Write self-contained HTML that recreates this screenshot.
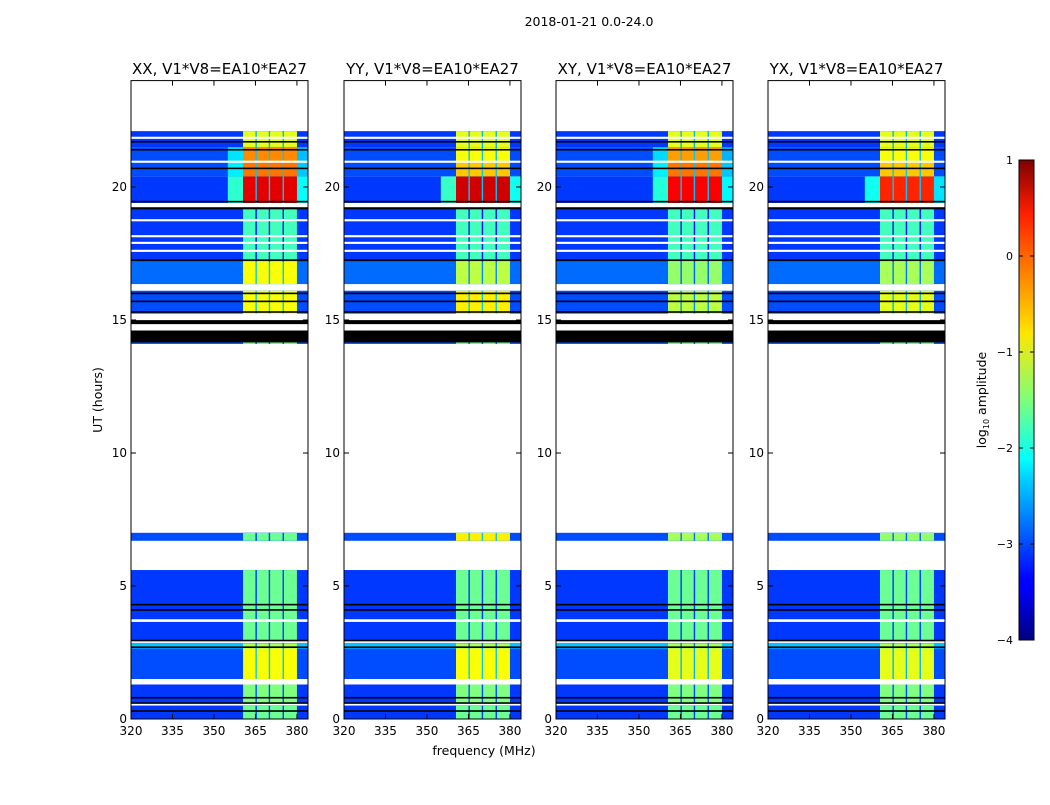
<!DOCTYPE html>
<html><head><meta charset="utf-8"><style>
html,body{margin:0;padding:0;background:#fff;}
svg text{font-family:"DejaVu Sans","Liberation Sans",sans-serif;}
</style></head><body>
<svg id="fig" width="1050" height="800" viewBox="0 0 1050 800" xmlns="http://www.w3.org/2000/svg">
<text x="589" y="26" font-size="12.5" text-anchor="middle">2018-01-21 0.0-24.0</text>
<text transform="translate(102,400) rotate(-90)" font-size="12.5" text-anchor="middle">UT (hours)</text>
<text x="484" y="755" font-size="12.5" text-anchor="middle">frequency (MHz)</text>
<g id="panels"></g>
<defs><linearGradient id="jet" x1="0" y1="1" x2="0" y2="0">
<stop offset="0" stop-color="#00007f"/><stop offset="0.11" stop-color="#0000ff"/><stop offset="0.125" stop-color="#0000ff"/>
<stop offset="0.34" stop-color="#00d4ff"/><stop offset="0.375" stop-color="#00ffff"/><stop offset="0.5" stop-color="#7dff7a"/>
<stop offset="0.64" stop-color="#ffe600"/><stop offset="0.66" stop-color="#ffd400"/><stop offset="0.89" stop-color="#ff1e00"/><stop offset="1" stop-color="#7f0000"/>
</linearGradient></defs>
<rect x="1019" y="160" width="15" height="480" fill="url(#jet)" stroke="#000" stroke-width="1"/>
<g id="cbticks"></g>
<text transform="translate(986,400) rotate(-90)" font-size="12.5" text-anchor="middle">log<tspan font-size="8" dy="3">10</tspan><tspan dy="-3"> amplitude</tspan></text>
</svg>
<script>
const NS='http://www.w3.org/2000/svg';
const panelTitles=['XX, V1*V8=EA10*EA27','YY, V1*V8=EA10*EA27','XY, V1*V8=EA10*EA27','YX, V1*V8=EA10*EA27'];
const panelLeft=[131,344,556,768];
const yTicks=[0,5,10,15,20];
const xTicks=[320,335,350,365,380];
const cbTicks=[1,0,-1,-2,-3,-4];
// frequency sub-bands with emission [MHz start, end]
const bandStart=[360.5,365.5,370.3,375.3];
const bandEnd=[365.0,369.8,374.8,380.0];
// time segments (hours)
const segStart=[0.0,0.5,1.5,2.65,2.85,6.7,14.1,15.2,16.35,17.2,19.4,20.4,20.95,21.5];
const segEnd  =[0.5,1.3,2.65,2.85,5.6,7.0,14.2,16.1,17.2,19.2,20.4,20.95,21.5,22.1];
const segBg   =[-3.1,-3.1,-3.0,-2.4,-3.1,-3.0,-3.0,-3.0,-2.85,-3.1,-3.1,-3.0,-3.0,-3.1];
const bandXX  =[-1.6,-1.5,-0.9,-1.3,-1.6,-1.6,-1.5,-0.9,-0.9,-1.8,0.5,-0.2,-0.3,-1.0];
const bandYY  =[-1.6,-1.5,-0.9,-1.3,-1.6,-0.8,-1.5,-0.8,-1.2,-1.8,0.6,-0.6,-0.9,-1.0];
const bandXY  =[-1.6,-1.5,-1.0,-1.3,-1.6,-1.3,-1.5,-1.2,-1.4,-1.8,0.4,-0.2,-0.4,-1.0];
const bandYX  =[-1.6,-1.5,-1.0,-1.3,-1.6,-1.4,-1.5,-1.0,-1.3,-1.8,0.2,-0.6,-0.9,-1.0];
const bands=[bandXX,bandYY,bandXY,bandYX];
const whiteLines=[21.85,20.95,19.3,18.75,18.15,17.9,17.6,16.2,15.2,14.7,3.7,2.9,1.4,0.55];
const whiteWidth=[0.08,0.08,0.1,0.08,0.08,0.08,0.08,0.12,0.08,0.15,0.1,0.08,0.2,0.08];
const blackLines=[21.7,21.4,20.7,19.45,19.2,17.25,16.0,15.7,15.3,14.38,14.92,4.1,4.3,2.95,2.7,0.8,0.6,0.3];
const blackWidth=[0.06,0.06,0.06,0.06,0.08,0.06,0.06,0.06,0.06,0.45,0.15,0.06,0.06,0.06,0.06,0.06,0.06,0.06];

const PW=177, PT=80.6, PB=719, FMIN=320, FMAX=384, TMAX=24;
function yS(h){return PB-(h/TMAX)*(PB-PT);}
function xS(left,f){return left+(f-FMIN)/(FMAX-FMIN)*PW;}
function jet(v){let t=Math.max(0,Math.min(1,(v+4)/5));
 const c=x=>Math.round(255*Math.max(0,Math.min(1,1.5-Math.abs(4*t-x))));
 return `rgb(${c(3)},${c(2)},${c(1)})`;}
function mk(tag,attrs,parent){const e=document.createElementNS(NS,tag);for(const k in attrs)e.setAttribute(k,attrs[k]);parent.appendChild(e);return e;}
const root=document.getElementById('panels');
panelTitles.forEach((title,p)=>{
 const L=panelLeft[p];
 const g=mk('g',{},root);
 
 
 segStart.forEach((s,i)=>{
  const y0=yS(segEnd[i]), y1=yS(s);
  const bgRect=mk('rect',{x:L,y:y0,width:PW,height:y1-y0,fill:jet(segBg[i])},g);
  
  
  const bl=bands[p][i];
  if(bl>-0.5){
   const sp=mk('rect',{x:xS(L,355),y:y0,width:xS(L,360.5)-xS(L,355),height:y1-y0,fill:jet((segBg[i]+bl)/2-0.6)},g);
   
   
   const sp2=mk('rect',{x:xS(L,380),y:y0,width:xS(L,384)-xS(L,380),height:y1-y0,fill:jet((segBg[i]+bl)/2-0.8)},g);
   
   
  }
  const gapR=mk('rect',{x:xS(L,bandStart[0]),y:y0,width:xS(L,bandEnd[3])-xS(L,bandStart[0]),height:y1-y0,fill:jet(Math.min(bl-1.5,-2.4))},g);
  
  
  bandStart.forEach((b,k)=>{
   const r=mk('rect',{x:xS(L,b),y:y0,width:xS(L,bandEnd[k])-xS(L,b),height:y1-y0,fill:jet(bl)},g);
   
   
  });
 });
 whiteLines.forEach((h,i)=>{const r=mk('rect',{x:L,y:yS(h+whiteWidth[i]/2),width:PW,height:Math.max(1.5,whiteWidth[i]*26.6),fill:'#fff'},g);
  
  });
 blackLines.forEach((h,i)=>{const r=mk('rect',{x:L,y:yS(h+blackWidth[i]/2),width:PW,height:Math.max(1.2,blackWidth[i]*26.6),fill:'#000'},g);
  
  });
 const fr=mk('rect',{x:L,y:PT,width:PW,height:PB-PT,fill:'none',stroke:'#000','stroke-width':1},g);
 
 
 const t=mk('text',{x:L+PW/2,y:74,'font-size':15,'text-anchor':'middle'},g);t.textContent=title;
 
 
 yTicks.forEach(v=>{const y=yS(v);
  mk('line',{x1:L,x2:L+5,y1:y,y2:y,stroke:'#000'},g);mk('line',{x1:L+PW-5,x2:L+PW,y1:y,y2:y,stroke:'#000'},g);
  const tx=mk('text',{x:L-4,y:y+4,'font-size':12,'text-anchor':'end'},g);tx.textContent=v;
  
  });
 xTicks.forEach(v=>{const x=xS(L,v);
  mk('line',{x1:x,x2:x,y1:PB,y2:PB-5,stroke:'#000'},g);mk('line',{x1:x,x2:x,y1:PT,y2:PT+5,stroke:'#000'},g);
  const tx=mk('text',{x:x,y:PB+16,'font-size':12,'text-anchor':'middle'},g);tx.textContent=v;
  
  });
});
const cb=document.getElementById('cbticks');
cbTicks.forEach(v=>{const y=160+(1-v)/5*480;
 mk('line',{x1:1019,x2:1023,y1:y,y2:y,stroke:'#000'},cb);mk('line',{x1:1030,x2:1034,y1:y,y2:y,stroke:'#000'},cb);
 const tx=mk('text',{x:1013,y:y+4,'font-size':11,'text-anchor':'end'},cb);tx.textContent=v<0?'\u2212'+(-v):v;
 
 });
</script>
</body></html>
